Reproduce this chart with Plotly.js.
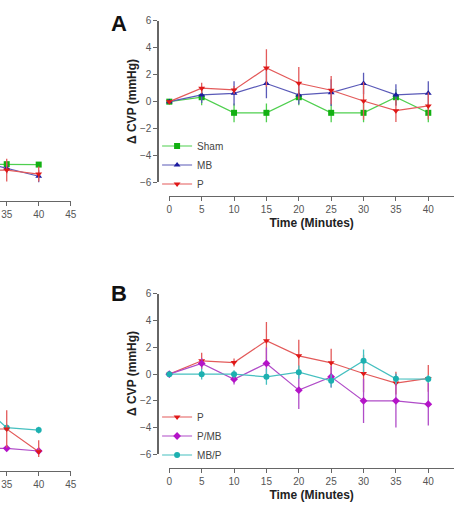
<!DOCTYPE html>
<html><head><meta charset="utf-8">
<script src="https://cdn.plot.ly/plotly-3.0.1.min.js"></script>
<style>html,body{margin:0;padding:0;background:#fff;}#chart{width:454px;height:512px;}</style>
</head><body><div id="chart"></div>
<script>
// ---- Data ----
const times = [0, 5, 10, 15, 20, 25, 30, 35, 40];
const xTickVals = [0, 5, 10, 15, 20, 25, 30, 35, 40, 45];
const yTickVals = [-6, -4, -2, 0, 2, 4, 6];
const xTitle = 'Time (Minutes)';
const yTitle = 'Δ CVP (mmHg)';
const panelLabels = ['A', 'B'];

// Panel A
const shamA = [0, 0.33, -0.83, -0.83, 0.33, -0.83, -0.83, 0.33, -0.83];
const shamAErr = [0, 0.6, 0.7, 0.7, 0.6, 0.7, 0.7, 0.6, 0.7];
const mbA = [0, 0.5, 0.62, 1.35, 0.5, 0.67, 1.35, 0.5, 0.62];
const mbAErr = [0, 0.6, 0.9, 1.1, 0.7, 1.0, 0.8, 0.8, 0.9];
const pA = [0, 1.0, 0.87, 2.5, 1.37, 0.85, 0.05, -0.67, -0.32];
const pAErr = [0, 0.4, 0.3, 1.4, 1.2, 1.05, 1.4, 0.85, 1.0];

// Panel B
const pB = [0, 1.0, 0.87, 2.5, 1.37, 0.85, 0.05, -0.67, -0.32];
const pBErr = [0, 0.6, 0.3, 1.4, 1.2, 1.05, 1.4, 0.85, 1.0];
const pmbB = [0, 0.8, -0.38, 0.8, -1.2, -0.2, -2.0, -2.0, -2.25];
const pmbBErr = [0, 0.4, 0.4, 1.2, 1.4, 0.8, 1.65, 2.0, 1.6];
const mbpB = [0, 0, 0, -0.2, 0.15, -0.5, 1.0, -0.35, -0.37];
const mbpBErr = [0, 0.4, 0.3, 0.6, 0.5, 0.5, 0.85, 0.4, 0.3];

// Partially visible left panels (cropped)
const leftTimes = [30, 35, 40];
const leftTickVals = [35, 40, 45];
const leftTopSham = [-4.3, -4.3, -4.33];
const leftTopShamErr = [0.2, 0.2, 0.2];
const leftTopMB = [-4.0, -4.6, -5.2];
const leftTopMBErr = [0.4, 0.4, 0.45];
const leftTopP = [-4.74, -4.74, -5.04];
const leftTopPErr = [0.85, 0.85, 0.56];
const leftBotMBP = [-1.65, -3.8, -3.98];
const leftBotMBPErr = [0.25, 0.25, 0.25];
const leftBotP = [-3.9, -3.9, -5.6];
const leftBotPErr = [1.4, 1.4, 0.86];
const leftBotPMB = [-5.33, -5.35, -5.55];
const leftBotPMBErr = [0.2, 0.2, 0.2];

// ---- Styles ----
const C = {
  sham: {line: '#4fcf4f', mk: '#12b012'},
  mb:   {line: '#5a5ab8', mk: '#1c1ca0'},
  p:    {line: '#e35a5a', mk: '#e01818'},
  pmb:  {line: '#b04cc8', mk: '#b414c8'},
  mbp:  {line: '#46c0c0', mk: '#1cb0b0'}
};

function tr(x, y, err, name, col, sym, xa, ya, leg, show) {
  return {
    type: 'scatter', mode: 'lines+markers', x: x, y: y, name: name,
    xaxis: xa, yaxis: ya, legend: leg, showlegend: show, cliponaxis: false,
    line: {color: col.line, width: 1.2},
    marker: {color: col.mk, symbol: sym, size: 6},
    error_y: {type: 'data', array: err, visible: true, color: col.line, thickness: 1.3, width: 0}
  };
}

const data = [
  tr(leftTimes, leftTopSham, leftTopShamErr, 'Sham', C.sham, 'square', 'x', 'y', 'legend', false),
  tr(leftTimes, leftTopMB, leftTopMBErr, 'MB', C.mb, 'triangle-up', 'x', 'y', 'legend', false),
  tr(leftTimes, leftTopP, leftTopPErr, 'P', C.p, 'triangle-down', 'x', 'y', 'legend', false),

  tr(times, shamA, shamAErr, 'Sham', C.sham, 'square', 'x2', 'y2', 'legend', true),
  tr(times, mbA, mbAErr, 'MB', C.mb, 'triangle-up', 'x2', 'y2', 'legend', true),
  tr(times, pA, pAErr, 'P', C.p, 'triangle-down', 'x2', 'y2', 'legend', true),

  tr(leftTimes, leftBotMBP, leftBotMBPErr, 'MB/P', C.mbp, 'circle', 'x3', 'y3', 'legend2', false),
  tr(leftTimes, leftBotPMB, leftBotPMBErr, 'P/MB', C.pmb, 'diamond', 'x3', 'y3', 'legend2', false),
  tr(leftTimes, leftBotP, leftBotPErr, 'P', C.p, 'triangle-down', 'x3', 'y3', 'legend2', false),

  tr(times, pB, pBErr, 'P', C.p, 'triangle-down', 'x4', 'y4', 'legend2', true),
  tr(times, pmbB, pmbBErr, 'P/MB', C.pmb, 'diamond', 'x4', 'y4', 'legend2', true),
  tr(times, mbpB, mbpBErr, 'MB/P', C.mbp, 'circle', 'x4', 'y4', 'legend2', true)
];

const FONT = 'Liberation Sans, Arial, sans-serif';
const tickFont = {family: FONT, size: 10, color: '#555'};
const titleFont = {family: FONT, size: 12, color: '#222', weight: 'bold'};

function xAx(domain, range, pos, vals, title) {
  const a = {
    domain: domain, range: range, anchor: 'free', position: pos,
    tickvals: vals, ticks: 'outside', ticklen: 4, tickwidth: 1, tickcolor: '#666',
    showline: true, linecolor: '#666', linewidth: 1.2, showgrid: false, zeroline: false,
    tickfont: tickFont, automargin: false, fixedrange: true
  };
  if (title) a.title = {text: title, font: titleFont, standoff: 4};
  return a;
}
function yAx(domain, pos, visible) {
  return {
    domain: domain, range: [-6, 6], anchor: 'free', position: pos, visible: visible,
    tickvals: yTickVals, ticks: 'outside', ticklen: 4, tickwidth: 1, tickcolor: '#666',
    showline: true, linecolor: '#666', linewidth: 1.2, showgrid: false, zeroline: false,
    tickfont: tickFont, automargin: false, fixedrange: true
  };
}

function label(text, yPx) {
  return {text: text, xref: 'paper', yref: 'paper', x: 119 / 454, y: 1 - yPx / 512,
    xanchor: 'center', yanchor: 'middle', showarrow: false,
    font: {family: FONT, size: 22, color: '#111', weight: 'bold'}};
}
function yTitleAnn(text, yPx) {
  return {text: text, xref: 'paper', yref: 'paper', x: 132 / 454, y: 1 - yPx / 512,
    xanchor: 'center', yanchor: 'middle', textangle: -90, showarrow: false,
    font: titleFont};
}

const layout = {
  width: 454, height: 512,
  margin: {l: 0, r: 0, t: 0, b: 0},
  paper_bgcolor: '#fff', plot_bgcolor: 'rgba(0,0,0,0)',
  font: {family: FONT, color: '#444'},
  showlegend: true,
  xaxis:  xAx([0, 0.1557], [33.95, 45], 0.6074, leftTickVals, null),
  yaxis:  yAx([0.6348, 0.9492], 0, false),
  xaxis2: xAx([0.3729, 1], [0, 43.97], 0.6172, xTickVals, xTitle),
  yaxis2: yAx([0.6439, 0.959], 0.3465, true),
  xaxis3: xAx([0, 0.1557], [33.95, 45], 0.0801, leftTickVals, null),
  yaxis3: yAx([0.1074, 0.4199], 0, false),
  xaxis4: xAx([0.3729, 1], [0, 43.97], 0.0854, xTickVals, xTitle),
  yaxis4: yAx([0.1127, 0.4258], 0.3465, true),
  legend: {
    x: 0.346, xanchor: 'left', y: 1 - 165 / 512, yanchor: 'middle',
    bgcolor: 'rgba(0,0,0,0)', borderwidth: 0,
    font: {family: FONT, size: 10, color: '#444'}, tracegroupgap: 0
  },
  legend2: {
    x: 0.346, xanchor: 'left', y: 1 - 436 / 512, yanchor: 'middle',
    bgcolor: 'rgba(0,0,0,0)', borderwidth: 0,
    font: {family: FONT, size: 10, color: '#444'}, tracegroupgap: 0
  },
  annotations: [
    label(panelLabels[0], 23),
    label(panelLabels[1], 293),
    yTitleAnn(yTitle, 102),
    yTitleAnn(yTitle, 374)
  ]
};

Plotly.newPlot('chart', data, layout, {displayModeBar: false, staticPlot: true});
</script>
</body></html>
